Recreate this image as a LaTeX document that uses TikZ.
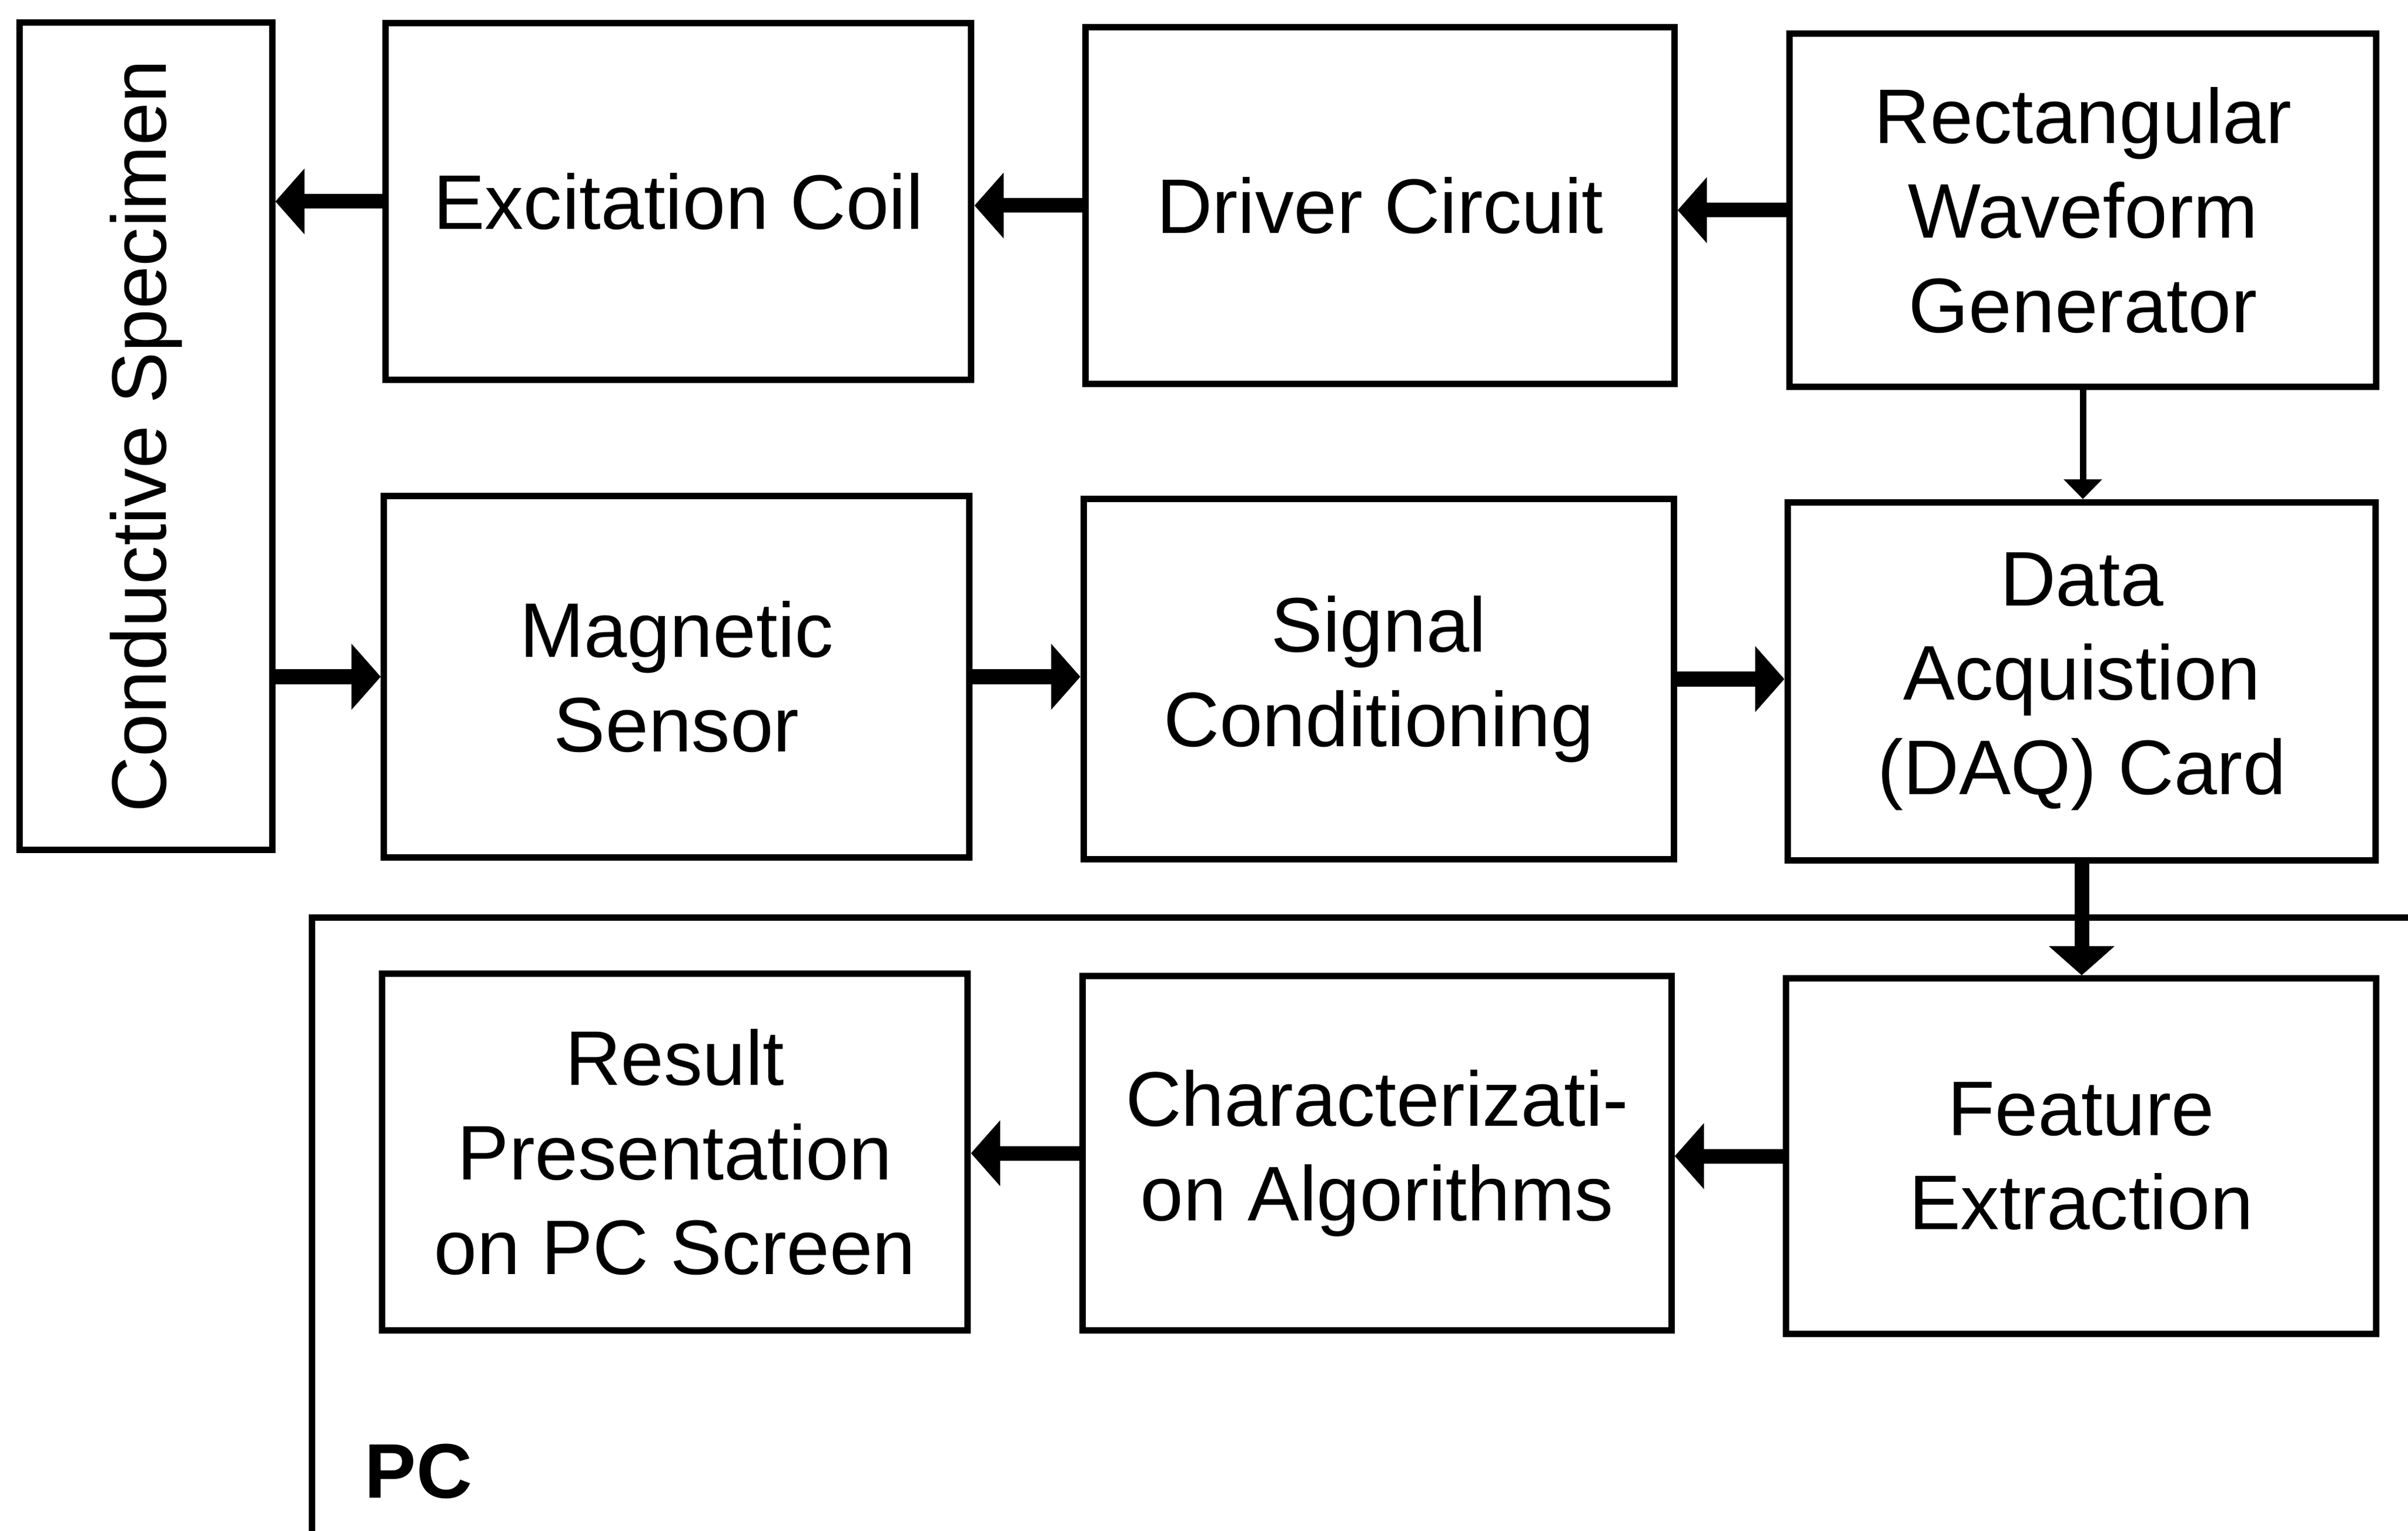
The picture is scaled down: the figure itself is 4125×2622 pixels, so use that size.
\documentclass[tikz,border=0pt]{standalone}
\usepackage{fontspec}
\setmainfont{Liberation Sans}
\usetikzlibrary{arrows.meta}
\begin{document}
\begin{tikzpicture}[x=0.01cm,y=-0.01cm,
  box/.style={draw,line width=0.11cm,align=center,inner sep=0pt,
    font=\fontsize{37.7}{46}\selectfont},
  bigarrow/.style={line width=0.25cm,-{Triangle[length=0.5cm,width=1.1cm]}},
  thinarrow/.style={line width=0.11cm,-{Triangle[length=0.34cm,width=0.64cm]}},
  frame/.style={line width=0.11cm}]
\useasboundingbox[fill=white] (0,0) rectangle (4125,2622);
% top row
\node[box,minimum width=4.32cm,minimum height=14.16cm] (spec) at (250,747)
  {\rotatebox{90}{Conductive Specimen}};
\node[box,minimum width=10.03cm,minimum height=6.11cm] (exc) at (1162,345) {Excitation Coil};
\node[box,minimum width=10.08cm,minimum height=6.11cm] (drv) at (2364,352) {Driver Circuit};
\node[box,minimum width=10.05cm,minimum height=6.05cm] (gen) at (3568,360) {Rectangular\\Waveform\\Generator};
% middle row
\node[box,minimum width=10.02cm,minimum height=6.18cm] (mag) at (1159,1159) {Magnetic\\Sensor};
\node[box,minimum width=10.11cm,minimum height=6.16cm] (sig) at (2362,1163) {Signal\\Conditioning};
\node[box,minimum width=10.07cm,minimum height=6.13cm] (daq) at (3566,1167) {Data\\Acquistion\\(DAQ) Card};
% PC frame
\coordinate (pcr) at (4125,1571);
\coordinate (pcb) at (534,2622);
\draw[frame] (pcr) -| (pcb);
\node[font=\fontsize{37.7}{46}\selectfont\bfseries,anchor=west,inner sep=0pt] (pc) at (624,2520) {PC};
% bottom row
\node[box,minimum width=10.03cm,minimum height=6.10cm] (res) at (1156,1973) {Result\\Presentation\\on PC Screen};
\node[box,minimum width=10.08cm,minimum height=6.07cm] (cha) at (2359,1975) {Characterizati-\\on Algorithms};
\node[box,minimum width=10.10cm,minimum height=6.08cm] (fea) at (3565,1980) {Feature\\Extraction};
% connectors
\draw[bigarrow] (exc.west) -- (exc.west -| spec.east);
\draw[bigarrow] (drv.west) -- (drv.west -| exc.east);
\draw[bigarrow] (gen.west) -- (gen.west -| drv.east);
\draw[thinarrow] (gen.south) -- (gen.south |- daq.north);
\draw[bigarrow] (spec.east |- mag.west) -- (mag.west);
\draw[bigarrow] (mag.east) -- (mag.east -| sig.west);
\draw[bigarrow] (sig.east) -- (sig.east -| daq.west);
\draw[bigarrow] (daq.south) -- (daq.south |- fea.north);
\draw[bigarrow] (fea.west) -- (fea.west -| cha.east);
\draw[bigarrow] (cha.west) -- (cha.west -| res.east);
\end{tikzpicture}
\end{document}
